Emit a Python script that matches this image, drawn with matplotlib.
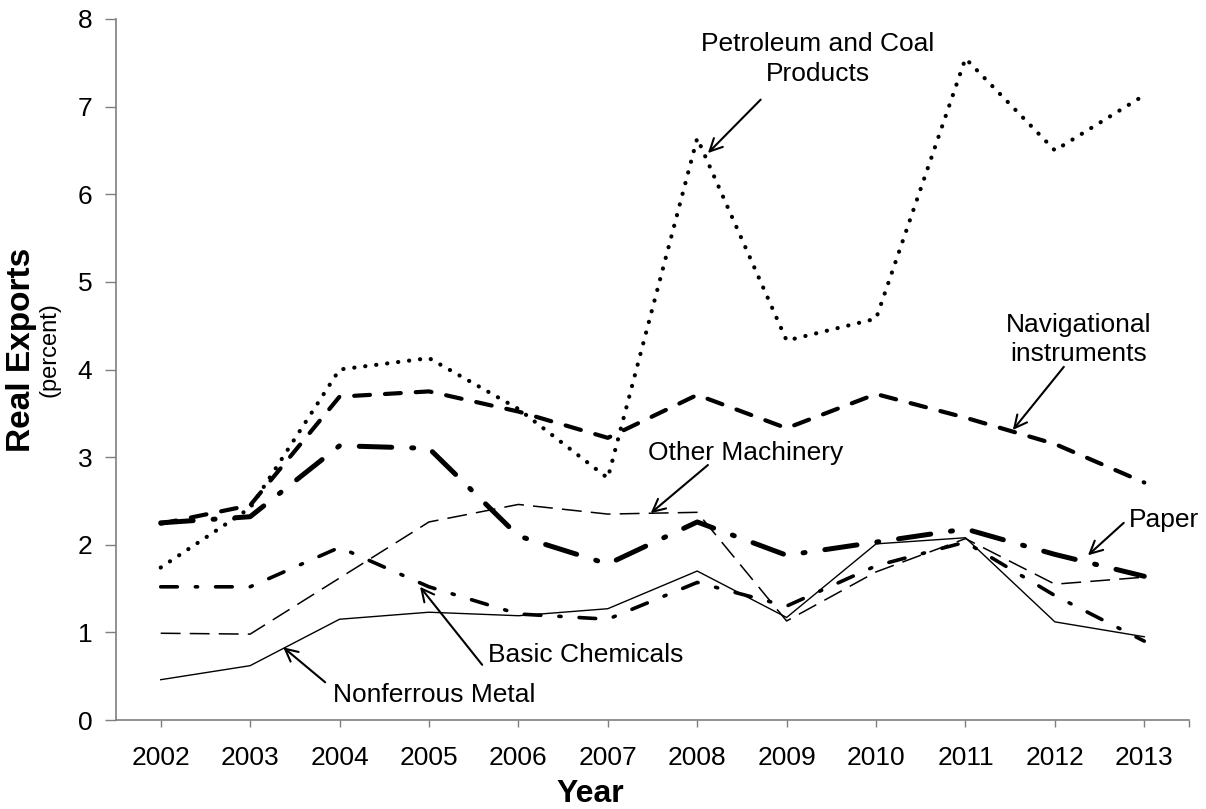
import matplotlib
matplotlib.use("Agg")
import matplotlib.pyplot as plt

plt.rcParams['font.family'] = ['Liberation Sans', 'DejaVu Sans']

years = [2002, 2003, 2004, 2005, 2006, 2007, 2008, 2009, 2010, 2011, 2012, 2013]

petroleum = [1.74, 2.42, 4.00, 4.13, 3.55, 2.76, 6.64, 4.33, 4.58, 7.55, 6.50, 7.13]
navigational = [2.24, 2.45, 3.69, 3.75, 3.52, 3.22, 3.71, 3.33, 3.72, 3.45, 3.15, 2.71]
paper = [2.25, 2.32, 3.13, 3.10, 2.10, 1.78, 2.26, 1.88, 2.03, 2.18, 1.89, 1.64]
other_machinery = [0.99, 0.98, 1.62, 2.26, 2.46, 2.35, 2.37, 1.13, 1.69, 2.07, 1.55, 1.63]
basic_chemicals = [1.52, 1.52, 1.97, 1.52, 1.21, 1.15, 1.57, 1.30, 1.76, 2.03, 1.42, 0.90]
nonferrous = [0.46, 0.62, 1.15, 1.23, 1.19, 1.27, 1.70, 1.17, 2.01, 2.08, 1.12, 0.95]

y_ticks = [0, 1, 2, 3, 4, 5, 6, 7, 8]

fig = plt.figure(figsize=(12.06, 8.09), dpi=100)
ax = fig.add_axes([116/1206, 1 - 720/809, (1189-116)/1206, (720-19)/809])

# lines
ax.plot(years, nonferrous, color='black', lw=1.0, solid_joinstyle='miter')
ax.plot(years, other_machinery, color='black', lw=1.1, linestyle=(0, (13, 6)))
ax.plot(years, basic_chemicals, color='black', lw=2.6,
        linestyle=(0, (4.6, 5.0, 0.6, 5.0)), dash_capstyle='round')
ax.plot(years, paper, color='black', lw=3.6,
        linestyle=(0, (6.5, 4.0, 0.4, 4.0)), dash_capstyle='round')
ax.plot(years, navigational, color='black', lw=3.0,
        linestyle=(0, (3.8, 3.6)), dash_capstyle='round')
ax.plot(years, petroleum, color='black', lw=3.0,
        linestyle=(0, (0.05, 2.6)), dash_capstyle='round')

ax.set_xlim(2001.5, 2013.5)
ax.set_ylim(0, 8)
ax.set_yticks(y_ticks)
ax.set_xticks(years)
ax.set_xticks([2013.5], minor=True)
ax.tick_params(axis='x', which='both', length=5, width=1, color='#7f7f7f',
               labelsize=19, pad=14)
ax.tick_params(axis='y', length=8, width=1, color='#7f7f7f', labelsize=19, pad=9)
for s in ['top', 'right']:
    ax.spines[s].set_visible(False)
for s in ['left', 'bottom']:
    ax.spines[s].set_color('#7f7f7f')
    ax.spines[s].set_linewidth(1.2)

# axis titles
fig.text(590/1206, 1 - 794/809, 'Year', fontsize=23, fontweight='bold',
         ha='center', va='center')
fig.text(22/1206, 1 - 350/809, 'Real Exports', fontsize=24, fontweight='bold',
         rotation=90, ha='center', va='center')
fig.text(50/1206, 1 - 350/809, '(percent)', fontsize=17,
         rotation=90, ha='center', va='center')

arrow = dict(arrowstyle='->,head_length=0.9,head_width=0.45', color='black', lw=1.5,
             shrinkA=0, shrinkB=0)
fs = 19

# annotations: text + arrow
ax.text(2009.35, 7.54, 'Petroleum and Coal\nProducts', fontsize=fs, ha='center',
        va='center', linespacing=1.3)
ax.annotate('', xy=(2008.12, 6.47), xytext=(2008.71, 7.08), arrowprops=arrow)

ax.text(2012.27, 4.34, 'Navigational\ninstruments', fontsize=fs, ha='center',
        va='center', linespacing=1.25)
ax.annotate('', xy=(2011.53, 3.31), xytext=(2012.10, 4.03), arrowprops=arrow)

ax.text(2008.54, 3.05, 'Other Machinery', fontsize=fs, ha='center', va='center')
ax.annotate('', xy=(2007.48, 2.36), xytext=(2008.12, 2.91), arrowprops=arrow)

ax.text(2012.83, 2.28, 'Paper', fontsize=fs, ha='left', va='center', clip_on=False)
ax.annotate('', xy=(2012.37, 1.88), xytext=(2012.77, 2.25), arrowprops=arrow)

ax.text(2005.66, 0.74, 'Basic Chemicals', fontsize=fs, ha='left', va='center')
ax.annotate('', xy=(2004.90, 1.52), xytext=(2005.595, 0.63), arrowprops=arrow)

ax.text(2003.93, 0.285, 'Nonferrous Metal', fontsize=fs, ha='left', va='center')
ax.annotate('', xy=(2003.37, 0.83), xytext=(2003.84, 0.43), arrowprops=arrow)

fig.savefig('out.png', dpi=100)
